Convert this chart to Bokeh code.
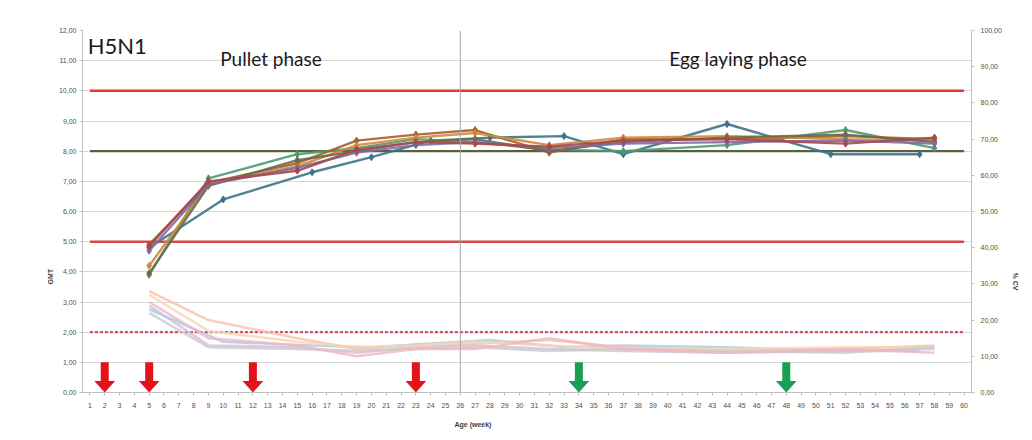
from bokeh.plotting import figure
from bokeh.models import (Range1d, LinearAxis, FixedTicker, CustomJSTickFormatter,
                          Span, Label, Title)
from bokeh.embed import file_html
from bokeh.resources import INLINE

# ---------------- data ----------------
WEEKS = list(range(1, 61))
GMT_TICKS = list(range(0, 13))
CV_TICKS = list(range(0, 101, 10))

WEEKS_A = [5, 10, 16, 20, 24, 28, 33, 37, 44, 51, 57]
WEEKS_B = [5, 9, 15, 19, 23, 27, 32, 37, 44, 52, 58]

# GMT (log2 HI titre) per flock
gmt_flock1 = [4.8, 6.4, 7.3, 7.8, 8.35, 8.45, 8.5, 7.9, 8.9, 7.9, 7.9]
gmt_flock2 = [3.9, 7.1, 7.9, 8.1, 8.4, 8.3, 8.05, 8.0, 8.2, 8.7, 8.1]
gmt_flock3 = [4.9, 6.95, 7.6, 8.35, 8.55, 8.7, 7.95, 8.4, 8.4, 8.5, 8.4]
gmt_flock4 = [4.2, 6.9, 7.5, 8.2, 8.45, 8.6, 8.2, 8.45, 8.5, 8.4, 8.35]
gmt_flock5 = [3.95, 6.85, 7.7, 8.0, 8.3, 8.4, 8.0, 8.3, 8.45, 8.55, 8.3]
gmt_flock6 = [4.7, 6.9, 7.45, 7.95, 8.2, 8.3, 8.1, 8.25, 8.3, 8.35, 8.25]
gmt_flock7 = [4.85, 7.0, 7.35, 8.05, 8.3, 8.25, 8.15, 8.35, 8.4, 8.25, 8.45]

# % CV per flock (right axis)
cv_flock1 = [23, 14, 13, 12.5, 13.5, 14.5, 12.5, 13, 12.5, 11.5, 11.5]
cv_flock2 = [28, 20, 15, 12, 13, 13.5, 14.5, 12.5, 11.5, 12, 13]
cv_flock3 = [24, 13, 12.5, 11, 12.5, 13, 12, 11.5, 11, 11.5, 12]
cv_flock4 = [27, 17, 14, 12.5, 13, 14, 13, 12, 12, 12.5, 12.5]
cv_flock5 = [22, 12.5, 12, 11.5, 12, 12.5, 11.5, 12, 11.5, 11, 12.5]
cv_flock6 = [25, 15, 13, 10, 12, 12, 15, 12, 11, 12, 11]

GMT_UPPER = 10
GMT_LOWER = 5
GMT_TARGET = 8
CV_REFERENCE = 2
PHASE_SPLIT_WEEK = 26

VACC_PULLET = [2, 5, 12, 23]
VACC_LAYING = [34, 48]

gmt_series = [
    (WEEKS_A, gmt_flock1, "#3b7488"),
    (WEEKS_B, gmt_flock2, "#4f9a72"),
    (WEEKS_B, gmt_flock3, "#a5612c"),
    (WEEKS_B, gmt_flock4, "#cf8a3e"),
    (WEEKS_B, gmt_flock5, "#6d6a48"),
    (WEEKS_B, gmt_flock6, "#7e6aa6"),
    (WEEKS_B, gmt_flock7, "#a84848"),
]
cv_series = [
    (WEEKS_A, cv_flock1, "#a9cbe2"),
    (WEEKS_B, cv_flock2, "#f5c0aa"),
    (WEEKS_B, cv_flock3, "#cdc0e0"),
    (WEEKS_B, cv_flock4, "#f8d5b0"),
    (WEEKS_B, cv_flock5, "#cacaca"),
    (WEEKS_B, cv_flock6, "#f3b5c0"),
]

# ---------------- figure ----------------
p = figure(width=1028, height=438, output_backend="svg", toolbar_location=None,
           x_range=Range1d(0.5, 60.5), y_range=Range1d(0, 12),
           min_border_left=82, min_border_right=57, min_border_top=30,
           min_border_bottom=46)
p.styles = {"outline": "1px solid #d9d9d9", "outline-offset": "-9px"}
p.outline_line_color = None
p.background_fill_color = "white"
p.extra_y_ranges = {"cv": Range1d(0, 100)}

fmt = CustomJSTickFormatter(code="return tick.toFixed(2).replace('.', ',');")

p.xgrid.grid_line_color = None
p.ygrid.ticker = FixedTicker(ticks=GMT_TICKS)
p.ygrid.grid_line_color = "#d9d9d9"
p.ygrid.grid_line_width = 1


def style_axis(ax):
    ax.axis_line_color = "#bfbfbf"
    ax.major_tick_line_color = "#bfbfbf"
    ax.minor_tick_line_color = None
    ax.major_tick_in = 0
    ax.major_tick_out = 3
    ax.major_label_text_font_size = "7px"
    ax.major_label_text_color = "#505050"
    ax.major_label_text_font = "Liberation Sans"


style_axis(p.xaxis[0])
style_axis(p.yaxis[0])
p.xaxis.ticker = FixedTicker(ticks=WEEKS)
p.xaxis.major_label_standoff = 7
p.yaxis.ticker = FixedTicker(ticks=GMT_TICKS)
p.yaxis.formatter = fmt
p.yaxis.major_label_standoff = 3

right = LinearAxis(y_range_name="cv", ticker=FixedTicker(ticks=CV_TICKS), formatter=fmt)
style_axis(right)
right.major_label_standoff = 6
p.add_layout(right, "right")

axis_title_style = dict(text_font="Liberation Sans", text_font_size="7px",
                        text_font_style="bold", text_color="#404040",
                        align="left")
p.add_layout(Title(text="Age (week)", offset=372, standoff=16, **axis_title_style), "below")
p.add_layout(Title(text="GMT", offset=108, standoff=4, **axis_title_style), "left")
p.add_layout(Title(text="% CV", offset=242, standoff=15, **axis_title_style), "right")

# phase boundary
p.add_layout(Span(location=PHASE_SPLIT_WEEK, dimension="height",
                  line_color="#a6a6a6", line_width=1))

x_ends = [min(WEEKS), max(WEEKS)]
p.line(x_ends, [GMT_UPPER] * 2, line_color="#e23a32", line_width=2.5)
p.line(x_ends, [GMT_LOWER] * 2, line_color="#d2494b", line_width=2.5)
p.line(x_ends, [GMT_TARGET] * 2, line_color="#59603f", line_width=2.2)
p.line(x_ends, [CV_REFERENCE] * 2, line_color="#e04a5c", line_width=2.2,
       line_dash="3 2")

# CV series (pale)
for wk, vals, col in cv_series:
    p.line(wk, vals, y_range_name="cv", line_color=col, line_width=2.6, line_alpha=0.8)

# GMT series
for wk, vals, col in gmt_series:
    p.line(wk, vals, line_color=col, line_width=2.4, line_alpha=0.9)
    p.scatter(wk, vals, marker="diamond", size=7, fill_color=col, line_color=col)


# vaccination arrows (derived from week lists)
def arrows(weeks, color):
    shaft_half, head_half = 0.27, 0.7
    p.quad(left=[w - shaft_half for w in weeks], right=[w + shaft_half for w in weeks],
           top=[1.0] * len(weeks), bottom=[0.36] * len(weeks),
           fill_color=color, line_color=None)
    p.patches(xs=[[w - head_half, w + head_half, w] for w in weeks],
              ys=[[0.38, 0.38, 0.0] for _ in weeks],
              fill_color=color, line_color=None)


arrows(VACC_PULLET, "#e3131b")
arrows(VACC_LAYING, "#17a050")

# texts
p.add_layout(Label(x=0.85, y=11.5, text="H5N1", text_font="Lato",
                   text_font_size="22px", text_color="#1a1a1a",
                   text_baseline="middle"))
p.add_layout(Label(x=9.8, y=11.06, text="Pullet phase", text_font="Lato",
                   text_font_size="19px", text_color="#1a1a1a",
                   text_baseline="middle"))
p.add_layout(Label(x=40.1, y=11.06, text="Egg laying phase", text_font="Lato",
                   text_font_size="19px", text_color="#1a1a1a",
                   text_baseline="middle"))

open("out.html", "w").write(file_html(p, INLINE))
